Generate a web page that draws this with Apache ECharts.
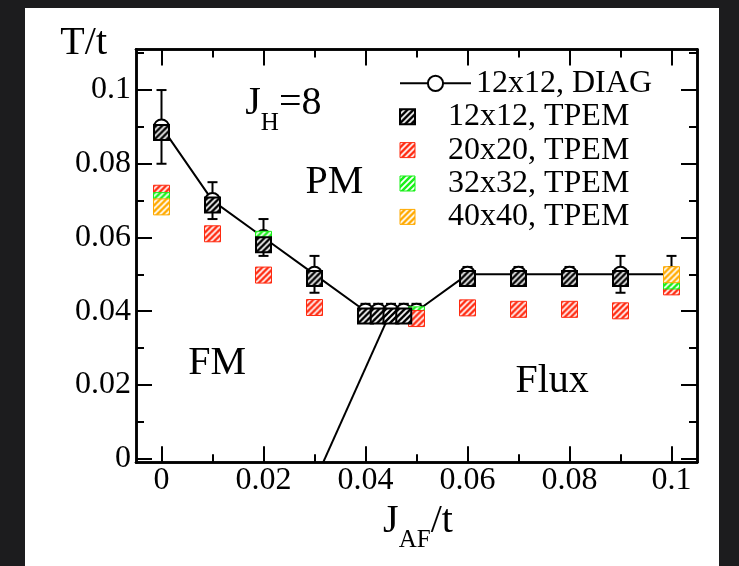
<!DOCTYPE html>
<html>
<head>
<meta charset="utf-8">
<script src="https://cdn.jsdelivr.net/npm/echarts@6/dist/echarts.min.js"></script>
<style>
  html, body { margin: 0; padding: 0; width: 739px; height: 566px; overflow: hidden; background: #1c1c1e; }
  #panel { position: absolute; left: 25px; top: 8px; width: 694px; height: 558px; background: #ffffff; }
  #chart { position: absolute; left: 0; top: 0; width: 739px; height: 566px; }
</style>
</head>
<body>
<div id="panel"></div>
<div id="chart"></div>
<script>
// ---------------- data ----------------
const xTicks = [0, 0.02, 0.04, 0.06, 0.08, 0.1];
const xTickLabels = ['0', '0.02', '0.04', '0.06', '0.08', '0.1'];
const xMinorTicks = [0.01, 0.03, 0.05, 0.07, 0.09];
const yTicks = [0, 0.02, 0.04, 0.06, 0.08, 0.1];
const yTickLabels = ['0', '0.02', '0.04', '0.06', '0.08', '0.1'];
const yMinorTicks = [0.01, 0.03, 0.05, 0.07, 0.09, 0.11];

// 12x12 exact diagonalization (line + open circles + error bars)
const diagJ   = [0, 0.01, 0.02, 0.03, 0.04, 0.0425, 0.045, 0.0475, 0.05, 0.06, 0.07, 0.08, 0.09, 0.1];
const diagT   = [0.09, 0.07, 0.06, 0.05, 0.04, 0.04, 0.04, 0.04, 0.04, 0.05, 0.05, 0.05, 0.05, 0.05];
const diagErr = [0.01, 0.005, 0.005, 0.005, 0.002, 0.002, 0.002, 0.002, 0.002, 0.002, 0.002, 0.002, 0.005, 0.005];

// TPEM results
const tpem12J = [0, 0.01, 0.02, 0.03, 0.04, 0.0425, 0.045, 0.0475, 0.06, 0.07, 0.08, 0.09];
const tpem12T = [0.0885, 0.0688, 0.058, 0.0489, 0.0387, 0.0387, 0.0387, 0.0387, 0.0489, 0.0489, 0.0489, 0.0489];
const tpem20J = [0, 0.01, 0.02, 0.03, 0.05, 0.06, 0.07, 0.08, 0.09, 0.1];
const tpem20T = [0.072, 0.061, 0.0498, 0.041, 0.038, 0.0409, 0.0405, 0.0405, 0.0401, 0.0466];
const tpem20OnTop = [0.05];       // points drawn over the 32x32 markers
const tpem32J = [0, 0.02, 0.05, 0.1];
const tpem32T = [0.070, 0.0595, 0.039, 0.0482];
const tpem40J = [0, 0.1];
const tpem40T = [0.0683, 0.0499];

// FM / Flux boundary
const boundaryJ = [0.0317, 0.045];
const boundaryT = [-0.001, 0.04];

// phase labels
const annoText = ['{m|J}{s|H}{m|=8}', 'PM', 'FM', 'Flux'];
const annoJ    = [0.0239, 0.0339, 0.0109, 0.0766];
const annoT    = [0.0963, 0.0748, 0.0259, 0.0209];

const seriesNames = ['12x12, DIAG', '12x12, TPEM', '20x20, TPEM', '32x32, TPEM', '40x40, TPEM'];

// ---------------- helpers ----------------
const zip = (a, b) => a.map((v, i) => [v, b[i]]);
function hatch(bg, fg, lw, scale) {
  const n = 6;
  const c = document.createElement('canvas');
  c.width = n; c.height = n;
  const ctx = c.getContext('2d');
  ctx.fillStyle = bg; ctx.fillRect(0, 0, n, n);
  ctx.strokeStyle = fg; ctx.lineWidth = lw;
  ctx.beginPath();
  ctx.moveTo(0, n); ctx.lineTo(n, 0);
  ctx.moveTo(-n / 2, n / 2); ctx.lineTo(n / 2, -n / 2);
  ctx.moveTo(n / 2, n * 1.5); ctx.lineTo(n * 1.5, n / 2);
  ctx.stroke();
  return { image: c, repeat: 'repeat', scaleX: scale, scaleY: scale };
}
const FONT = 'Liberation Serif';
const BLACK = '#000';
const RED = '#ff2a10', GREEN = '#19f019', ORANGE = '#ffaa00';
const SZ_BLACK = 15, SZ_COL = 16;
// symbols are drawn in a 2x2 box scaled by size/2, so the pattern is pre-scaled inversely
const patBlack = hatch('#ffffff', '#000000', 2.5, 2 / SZ_BLACK);
const patRed = hatch(RED, '#ffffff', 1.8, 2 / SZ_COL);
const patGreen = hatch(GREEN, '#ffffff', 1.8, 2 / SZ_COL);
const patOrange = hatch(ORANGE, '#ffffff', 1.8, 2 / SZ_COL);
const legBlack = hatch('#ffffff', '#000000', 2.5, 1);
const legRed = hatch(RED, '#ffffff', 1.8, 1);
const legGreen = hatch(GREEN, '#ffffff', 1.8, 1);
const legOrange = hatch(ORANGE, '#ffffff', 1.8, 1);
const SQ = 'path://M0,0L10,0L10,10L0,10Z';

const X_MIN = -0.005, X_MAX = 0.105, Y_MIN = -0.001, Y_MAX = 0.111;

function xAx(pos, major, showLabel) {
  return {
    type: 'value', position: pos, min: X_MIN, max: X_MAX,
    axisLine: { show: true, onZero: false, lineStyle: { color: BLACK, width: 2.5 } },
    axisTick: { show: true, inside: true, length: major ? 16 : 8, customValues: major ? xTicks : xMinorTicks,
                lineStyle: { color: BLACK, width: 2 } },
    axisLabel: { show: showLabel, customValues: xTicks, margin: 2,
                 formatter: v => xTickLabels[xTicks.findIndex(t => Math.abs(t - v) < 1e-9)] ?? '',
                 fontFamily: FONT, fontSize: 32, color: BLACK },
    splitLine: { show: false }, minorTick: { show: false }
  };
}
function yAx(pos, major, showLabel) {
  return {
    type: 'value', position: pos, min: Y_MIN, max: Y_MAX,
    axisLine: { show: true, onZero: false, lineStyle: { color: BLACK, width: 2.5 } },
    axisTick: { show: true, inside: true, length: major ? 16 : 8, customValues: major ? yTicks : yMinorTicks,
                lineStyle: { color: BLACK, width: 2 } },
    axisLabel: { show: showLabel, customValues: yTicks, margin: 5,
                 formatter: v => yTickLabels[yTicks.findIndex(t => Math.abs(t - v) < 1e-9)] ?? '',
                 fontFamily: FONT, fontSize: 32, color: BLACK },
    splitLine: { show: false }, minorTick: { show: false }
  };
}

const xAxes = [xAx('bottom', true, true), xAx('bottom', false, false), xAx('top', true, false), xAx('top', false, false)];
xAxes[0].name = '{m|J}{s|AF}{m|/t}';
xAxes[0].nameLocation = 'middle';
xAxes[0].nameGap = 48;
xAxes[0].nameTextStyle = {
  verticalAlign: 'middle', color: BLACK, fontFamily: FONT, padding: [0, 0, 0, 3],
  rich: { m: { fontFamily: FONT, fontSize: 40, color: BLACK },
          s: { fontFamily: FONT, fontSize: 25, color: BLACK, padding: [38, 0, 0, 0] } }
};
const yAxes = [yAx('left', true, true), yAx('left', false, false), yAx('right', true, false), yAx('right', false, false)];
yAxes[0].name = 'T/t';
yAxes[0].nameLocation = 'end';
yAxes[0].nameGap = 6.5;
yAxes[0].nameTextStyle = { fontFamily: FONT, fontSize: 40, color: BLACK, align: 'right', verticalAlign: 'middle', padding: [0, 29, 0, 0] };

const errData = diagJ.map((j, i) => [j, diagT[i], diagErr[i]]);
const onTop = j => tpem20OnTop.some(t => Math.abs(t - j) < 1e-9);
const red20 = zip(tpem20J, tpem20T);

const sqStyle = (pat, border, bw) => ({ color: pat, borderColor: border, borderWidth: bw, opacity: 1 });

const chart = echarts.init(document.getElementById('chart'), null, { renderer: 'canvas' });
chart.setOption({
  backgroundColor: 'transparent',
  animation: false,
  grid: { left: 136, right: 42, top: 49.5, bottom: 103.7 },
  xAxis: xAxes,
  yAxis: yAxes,
  legend: [
    {
      data: [seriesNames[0]], left: 399, top: 67.3, orient: 'vertical', padding: 0,
      itemWidth: 71, itemHeight: 19, selectedMode: false,
      textStyle: { fontFamily: FONT, fontSize: 32, color: BLACK }
    },
    {
      data: [
        { name: seriesNames[1], icon: SQ, itemStyle: sqStyle(legBlack, BLACK, 2) },
        { name: seriesNames[2], icon: SQ, itemStyle: sqStyle(legRed, RED, 1) },
        { name: seriesNames[3], icon: SQ, itemStyle: sqStyle(legGreen, GREEN, 1) },
        { name: seriesNames[4], icon: SQ, itemStyle: sqStyle(legOrange, ORANGE, 1) }
      ],
      left: 399, top: 100.7, orient: 'vertical', itemGap: 1.4, padding: 0,
      itemWidth: 71, itemHeight: 15, selectedMode: false,
      textStyle: { fontFamily: FONT, fontSize: 32, color: BLACK }
    }
  ],
  series: [
    {
      name: 'boundary', type: 'line', z: 2, data: zip(boundaryJ, boundaryT), symbol: 'none',
      lineStyle: { color: BLACK, width: 2 }, silent: true
    },
    {
      name: 'errors', type: 'custom', z: 2, data: errData, silent: true,
      renderItem: (params, api) => {
        const x = api.value(0), y = api.value(1), e = api.value(2);
        const t = api.coord([x, y + e]), b = api.coord([x, y - e]);
        const hw = 5, st = { stroke: BLACK, lineWidth: 2 };
        return { type: 'group', children: [
          { type: 'line', shape: { x1: t[0], y1: t[1], x2: b[0], y2: b[1] }, style: st },
          { type: 'line', shape: { x1: t[0] - hw, y1: t[1], x2: t[0] + hw, y2: t[1] }, style: st },
          { type: 'line', shape: { x1: b[0] - hw, y1: b[1], x2: b[0] + hw, y2: b[1] }, style: st }
        ] };
      }
    },
    {
      name: seriesNames[0], type: 'line', z: 3, data: zip(diagJ, diagT),
      symbol: 'circle', symbolSize: 15, showAllSymbol: true,
      lineStyle: { color: BLACK, width: 2 },
      itemStyle: { color: '#ffffff', borderColor: BLACK, borderWidth: 2, opacity: 1 }
    },
    {
      name: seriesNames[2], type: 'scatter', z: 4, symbol: 'rect', symbolSize: SZ_COL,
      data: red20.filter(d => !onTop(d[0])), itemStyle: sqStyle(patRed, RED, 1)
    },
    {
      name: seriesNames[3], type: 'scatter', z: 5, symbol: 'rect', symbolSize: SZ_COL,
      data: zip(tpem32J, tpem32T), itemStyle: sqStyle(patGreen, GREEN, 1)
    },
    {
      name: seriesNames[2], type: 'scatter', z: 6, symbol: 'rect', symbolSize: SZ_COL,
      data: red20.filter(d => onTop(d[0])), itemStyle: sqStyle(patRed, RED, 1)
    },
    {
      name: seriesNames[1], type: 'scatter', z: 7, symbol: 'rect', symbolSize: SZ_BLACK,
      data: zip(tpem12J, tpem12T), itemStyle: sqStyle(patBlack, BLACK, 2)
    },
    {
      name: seriesNames[4], type: 'scatter', z: 8, symbol: 'rect', symbolSize: SZ_COL,
      data: zip(tpem40J, tpem40T), itemStyle: sqStyle(patOrange, ORANGE, 1)
    },
    {
      name: 'labels', type: 'scatter', z: 9, silent: true, symbolSize: 0,
      itemStyle: { color: 'transparent', opacity: 1 },
      data: annoJ.map((j, i) => ({ value: [j, annoT[i]], label: { formatter: annoText[i] } })),
      label: {
        show: true, position: 'inside', fontFamily: FONT, fontSize: 40, color: BLACK, opacity: 1,
        rich: { m: { fontFamily: FONT, fontSize: 40, color: BLACK },
                s: { fontFamily: FONT, fontSize: 25, color: BLACK, padding: [39, 0, 0, 0] } }
      }
    }
  ]
});
</script>
</body>
</html>
